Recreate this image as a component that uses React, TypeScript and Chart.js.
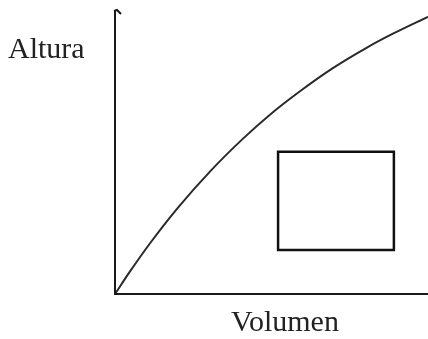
import React, { useEffect, useRef } from "react";
import { Chart, registerables } from "chart.js";

Chart.register(...registerables);

// Curve: Altura vs Volumen (arbitrary units, 0..100)
const volumen = [0, 4.8, 11.2, 19.8, 30.4, 40.9, 49.5, 59.1, 69.6, 80.5, 88.8, 100];
const altura = [0, 8.0, 18.0, 30.2, 43.5, 55.1, 63.6, 71.9, 80.1, 87.4, 92.3, 98.3];

// Rectangle corners (closed path)
const rectX = [52.1, 89.1, 89.1, 52.1, 52.1];
const rectY = [50.4, 50.4, 15.6, 15.6, 50.4];

const xLabel = "Volumen";
const yLabel = "Altura";

const W = 428;
const H = 339;

export default function App() {
  const ref = useRef<HTMLCanvasElement | null>(null);

  useEffect(() => {
    if (!ref.current) return;
    const decor = {
      id: "decor",
      afterDraw(chart: any) {
        const { ctx, chartArea } = chart;
        const { left, right, bottom, top } = chartArea;
        ctx.save();
        ctx.strokeStyle = "#1a1a1a";
        ctx.lineWidth = 2;
        ctx.lineCap = "butt";
        // y axis
        ctx.beginPath();
        ctx.moveTo(left, bottom + 1);
        ctx.lineTo(left, top - 1);
        ctx.stroke();
        // arrow hook
        ctx.beginPath();
        ctx.moveTo(left - 1, top - 1);
        ctx.lineTo(left + 2, top - 2);
        ctx.lineTo(left + 6, top + 2);
        ctx.stroke();
        // x axis
        ctx.beginPath();
        ctx.moveTo(left - 1, bottom);
        ctx.lineTo(right, bottom);
        ctx.stroke();
        // labels
        ctx.fillStyle = "#222";
        ctx.font = '30px "Liberation Serif", "DejaVu Serif", serif';
        ctx.textBaseline = "alphabetic";
        ctx.textAlign = "left";
        ctx.fillText(yLabel, 8, 58);
        ctx.textAlign = "center";
        ctx.fillText(xLabel, 285, 331);
        ctx.restore();
      },
    };

    const chart = new Chart(ref.current, {
      type: "scatter",
      data: {
        datasets: [
          {
            data: volumen.map((v, i) => ({ x: v, y: altura[i] })),
            showLine: true,
            borderColor: "#2a2a2a",
            borderWidth: 2,
            pointRadius: 0,
            cubicInterpolationMode: "monotone",
            fill: false,
          },
          {
            data: rectX.map((v, i) => ({ x: v, y: rectY[i] })),
            showLine: true,
            borderColor: "#111",
            borderWidth: 2.5,
            borderCapStyle: "square",
            borderJoinStyle: "miter",
            pointRadius: 0,
            tension: 0,
            fill: false,
          },
        ],
      },
      options: {
        responsive: false,
        animation: false,
        events: [],
        layout: { padding: { left: 115, right: 0, top: 12, bottom: 45 } },
        plugins: { legend: { display: false }, tooltip: { enabled: false }, title: { display: false } },
        scales: {
          x: { type: "linear", min: 0, max: 100, display: false },
          y: { type: "linear", min: 0, max: 100, display: false },
        },
      },
      plugins: [decor],
    });
    return () => chart.destroy();
  }, []);

  return (
    <div style={{ position: "fixed", left: 0, top: 0, width: W, height: H, background: "#fff" }}>
      <canvas ref={ref} width={W} height={H} style={{ width: W, height: H, display: "block" }} />
    </div>
  );
}
